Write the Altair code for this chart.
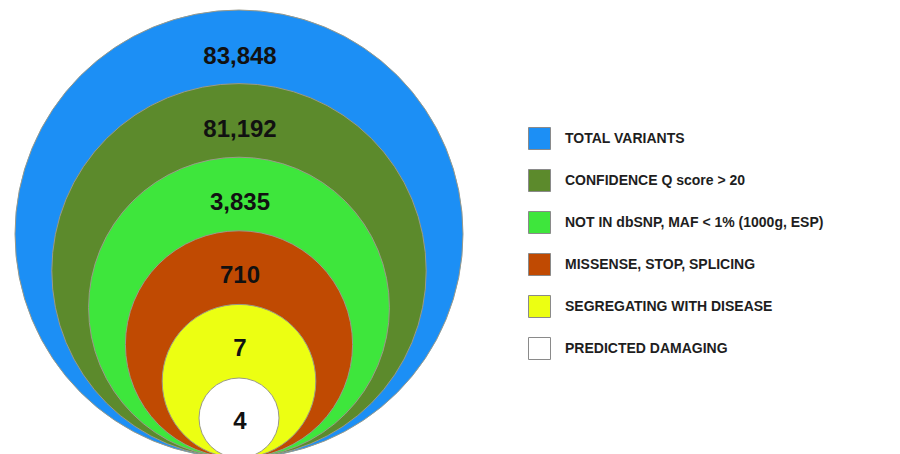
import altair as alt
import pandas as pd

# ---- data ----
categories = [
    "TOTAL VARIANTS",
    "CONFIDENCE Q score > 20",
    "NOT IN dbSNP, MAF < 1% (1000g, ESP)",
    "MISSENSE, STOP, SPLICING",
    "SEGREGATING WITH DISEASE",
    "PREDICTED DAMAGING",
]
counts = [83848, 81192, 3835, 710, 7, 4]
labels = ["83,848", "81,192", "3,835", "710", "7", "4"]
levels = [0, 1, 2, 3, 4, 5]
colors = ["#1c8ff5", "#5c8a2c", "#3ee63c", "#c04a02", "#ecff12", "#ffffff"]

df = pd.DataFrame({"category": categories, "count": counts,
                   "label": labels, "level": levels})

color_scale = alt.Scale(domain=categories, range=colors)
# circle diameters (px) for each nesting level -> symbol area
diameters = [448, 374.4, 300.8, 227.2, 153.6, 80]
size_range = [d * d for d in diameters]

circles = alt.Chart(df).mark_circle(
    opacity=1, stroke="#9a9a8a", strokeWidth=1
).encode(
    x=alt.value(231),
    y=alt.Y("level:Q", axis=None,
            scale=alt.Scale(domain=[0, 5], range=[226, 410], zero=False, nice=False)),
    size=alt.Size("level:O", legend=None,
                  scale=alt.Scale(type="ordinal", domain=levels, range=size_range)),
    color=alt.Color("category:N", scale=color_scale, sort=categories,
                    legend=alt.Legend(
                        title=None, orient="none", legendX=520, legendY=119,
                        symbolType="square", symbolSize=484,
                        symbolStrokeColor="#8a8a8a", symbolStrokeWidth=1,
                        symbolOpacity=1,
                        labelFont="Liberation Sans", labelFontSize=14,
                        labelFontWeight="bold", labelColor="#1e1e1e",
                        labelOffset=14, rowPadding=15, labelLimit=400)),
)

texts = alt.Chart(df).mark_text(
    font="Liberation Sans", fontSize=24, fontWeight="bold",
    color="#111111", baseline="middle", align="center"
).encode(
    x=alt.value(232),
    y=alt.Y("level:Q", axis=None,
            scale=alt.Scale(domain=[0, 5], range=[49, 414], zero=False, nice=False)),
    text="label:N",
)

chart = alt.layer(circles, texts).resolve_scale(y="independent").properties(
    width=884, height=446, padding=0,
    autosize=alt.AutoSizeParams(type="none"),
).configure_view(stroke=None)

chart.save("out.html", embed_options={"renderer": "svg", "actions": False})
